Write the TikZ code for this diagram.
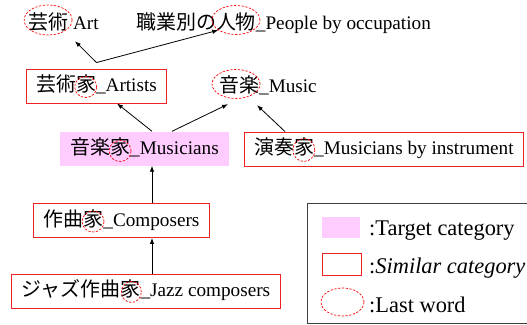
\documentclass[tikz,border=0pt]{standalone}
\usepackage{fontspec}
\setmainfont{Liberation Serif}[ItalicFont={Liberation Serif Italic}]
\newfontfamily\jp{Noto Sans CJK JP}[Scale=1.04]
\usetikzlibrary{arrows.meta,shapes.geometric}
\definecolor{targetpink}{RGB}{255,204,255}
\definecolor{simred}{RGB}{238,34,34}

\begin{document}
\begin{tikzpicture}[x=1pt, y=-1pt,
  catname/.style={inner xsep=10pt, inner ysep=0pt, minimum height=34pt,
    text height=14pt, text depth=2.5pt, font=\fontsize{19.2}{22}\selectfont},
  similar/.style={catname, draw=simred, line width=0.9pt},
  target/.style={catname, fill=targetpink},
  lastword/.style={ellipse, draw=red, dash pattern=on 2.2pt off 1.6pt,
    line width=0.7pt, inner sep=0pt},
  onechar/.style={lastword, minimum width=22pt, minimum height=21pt},
  twochar/.style={lastword, minimum width=48pt, minimum height=29pt},
  link/.style={-{Latex[length=6pt, width=4.5pt]}, line width=0.8pt},
  keytext/.style={anchor=base west, inner sep=0pt, font=\fontsize{22.4}{26}\selectfont}]
\useasboundingbox (0,0) rectangle (527,324);
% Set the width of one Japanese character
\def\cw{20pt}

% Categories
\node[catname] (art) at (63.5,24) {{\jp 芸術} Art};
\node[catname] (people) at (283.5,24) {{\jp 職業別の人物}\_People by occupation};
\node[similar] (artists) at (96.5,86) {{\jp 芸術家}\_Artists};
\node[catname] (music) at (268,87) {{\jp 音楽}\_Music};
\node[target] (musicians) at (144.5,148.5) {{\jp 音楽家}\_Musicians};
\node[similar] (instrument) at (384,149) {{\jp 演奏家}\_Musicians by instrument};
\node[similar] (composers) at (121.5,220.5) {{\jp 作曲家}\_Composers};
\node[similar] (jazz) at (146,291) {{\jp ジャズ作曲家}\_Jazz composers};

% Last words
\node[twochar, minimum height=30pt] (artLW) at ([xshift=10pt+\cw, yshift=4pt]art.west) {};
\node[twochar] (peopleLW) at ([xshift=10pt+5*\cw, yshift=4pt]people.west) {};
\node[twochar] (musicLW) at ([xshift=10pt+\cw-3pt, yshift=3pt]music.west) {};
\node[onechar] (artistsLW) at ([xshift=10pt+2.5*\cw, yshift=-1pt]artists.west) {};
\node[onechar] (musiciansLW) at ([xshift=10pt+2.5*\cw, yshift=-2.5pt]musicians.west) {};
\node[onechar, minimum height=23pt] (instrumentLW) at ([xshift=10pt+2.5*\cw, yshift=-1pt]instrument.west) {};
\node[onechar] (composersLW) at ([xshift=10pt+2.5*\cw, yshift=-1pt]composers.west) {};
\node[onechar, minimum width=20pt] (jazzLW) at ([xshift=10pt+5.5*\cw, yshift=-1pt]jazz.west) {};

% Links
\coordinate (fork) at ([yshift=6pt]artists.north);
\draw[link] (fork) -- ([xshift=11.5pt]art.south);
\draw[link] (fork) -- (peopleLW.210);
\draw[link] ([xshift=7.5pt]musicians.north) -- ([xshift=20.5pt]artists.south);
\draw[link] ([xshift=27.5pt]musicians.north) -- ([xshift=-40pt]music.south);
\draw[link] ([xshift=-99pt]instrument.north) -- ([xshift=-11pt, yshift=-1pt]music.south);
\coordinate (spine) at ([xshift=7.5pt]musicians.south);
\draw[link] (composers.north -| spine) -- (spine);
\draw[link] (jazz.north -| spine) -- (composers.south -| spine);

% Legend
\node[draw=black!75, line width=0.9pt, inner sep=0pt, minimum width=240pt,
  minimum height=120pt, anchor=north west] (legend) at (307,203) {};
\node[fill=targetpink, inner sep=0pt, minimum width=38pt, minimum height=21pt] (keyTarget) at (341,227.5) {};
\node[draw=simred, line width=0.9pt, inner sep=0pt, minimum width=39pt, minimum height=22pt] (keySimilar) at (341.5,264) {};
\node[lastword, minimum width=43pt, minimum height=28pt] (keyLast) at (342.5,302) {};
\node[keytext] (keyTargetText) at (369,235) {:Target category};
\node[keytext] (keySimilarText) at (369,273) {:\textit{Similar category}};
\node[keytext] (keyLastText) at (369,312) {:Last word};
\end{tikzpicture}
\end{document}
